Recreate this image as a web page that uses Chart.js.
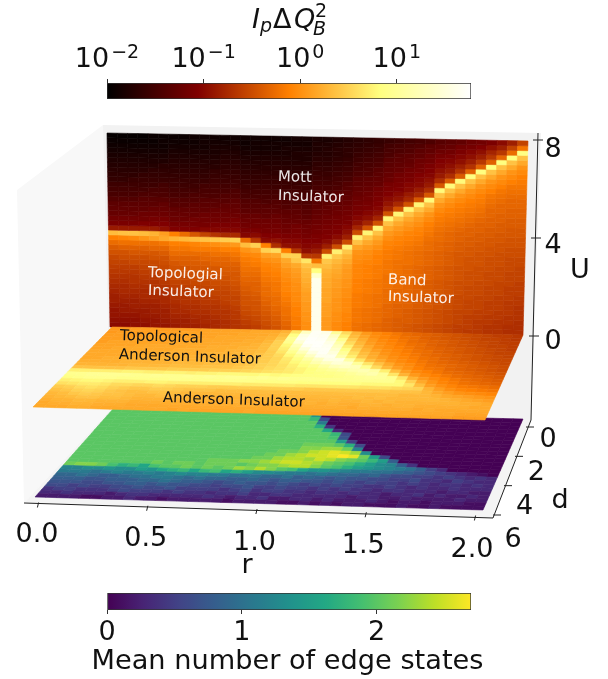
<!DOCTYPE html>
<html>
<head>
<meta charset="utf-8">
<script src="https://cdn.jsdelivr.net/npm/chart.js@4"></script>
<style>
  body { margin: 0; background: #fff; }
  canvas { position: absolute; left: 0; filter: blur(0.4px); }
  #mainChart { top: 0; }
  #hotBar { top: 0; }
  #edgeBar { top: 590px; }
</style>
</head>
<body>
<canvas id="mainChart" width="608" height="679"></canvas>
<canvas id="hotBar" width="608" height="100"></canvas>
<canvas id="edgeBar" width="608" height="89"></canvas>
<script>
// axis ticks
const rTicks = [0, 0.5, 1, 1.5, 2];
const dTicks = [0, 2, 4, 6];
const uTicks = [0, 4, 8];
const hotTicks = [0.01, 0.1, 1, 10];
const hotExponents = ["\u22122", "\u22121", "0", "1"];
const edgeTicks = [0, 1, 2];
const hotRange = [0.01, 58.7];
const edgeRange = [0, 2.7];

// back wall, I_p dQ_B^2 read as percent of the log colourbar.
// one line per r column (r = 0 .. 2), bottom (U = 0) to top (U = 8)
const wallColumns = [
  [27,28,29,29,30,31,31,32,33,34,35,36,37,38,39,41,43,46,50,62,30,24,22,20,19,18,16,14,13,12,10,9,8,7,6,5,4,3,2,1],
  [27,28,29,30,30,31,32,33,33,34,35,36,37,38,40,41,44,47,51,63,30,24,22,20,19,18,16,14,13,12,10,9,8,7,6,5,4,3,2,1],
  [28,28,29,30,31,31,32,33,34,35,35,36,37,39,40,42,44,47,52,63,30,24,22,20,19,18,16,14,13,12,11,9,8,7,6,5,4,3,2,1],
  [28,29,30,30,31,32,33,33,34,35,36,37,38,39,40,42,44,47,54,62,30,25,22,21,19,18,17,15,13,12,11,10,8,7,6,5,4,3,2,1],
  [29,29,30,31,31,32,33,34,35,35,36,37,38,39,41,42,45,47,56,60,30,25,23,21,20,18,17,15,14,12,11,10,9,7,6,5,4,3,2,2],
  [29,30,31,31,32,33,33,34,35,36,37,38,39,40,41,43,45,48,58,56,28,25,23,21,20,19,17,15,14,13,11,10,9,8,6,5,4,3,3,2],
  [30,31,32,33,33,34,35,36,37,38,39,40,41,42,44,46,48,50,60,50,25,23,21,20,19,17,16,14,13,12,11,10,9,8,7,6,5,4,3,2],
  [31,31,32,33,34,35,35,36,37,38,39,40,41,43,44,46,48,50,61,46,25,23,21,20,19,17,16,14,13,12,11,10,9,8,7,6,5,4,3,2],
  [31,32,33,34,34,35,36,37,38,39,40,40,42,43,44,46,49,51,62,42,25,23,22,20,19,18,16,15,13,12,11,10,9,8,7,6,5,4,3,3],
  [32,33,33,34,35,36,36,37,38,39,40,41,42,43,45,46,49,52,63,38,26,23,22,21,19,18,17,15,14,13,11,10,9,8,7,6,5,4,4,3],
  [33,33,34,35,35,36,37,38,39,40,40,41,42,44,45,47,49,53,64,35,26,24,22,21,20,18,17,15,14,13,12,11,10,8,7,6,5,5,4,3],
  [34,34,35,35,36,37,38,38,39,40,41,42,43,44,45,47,50,54,65,33,26,24,22,21,20,19,17,16,14,13,12,11,10,9,8,7,6,5,4,3],
  [35,35,36,36,37,38,38,39,40,41,42,42,43,44,46,48,50,55,66,33,26,24,23,21,20,19,18,16,15,13,12,11,10,9,8,7,6,5,4,3],
  [36,37,38,39,40,41,41,42,43,44,45,46,47,48,49,51,54,62,46,26,24,22,21,20,18,17,16,14,13,12,11,10,9,8,7,6,5,4,3,3],
  [37,38,39,40,41,41,42,43,44,44,45,46,47,49,50,52,56,66,36,27,24,22,21,20,18,17,16,14,13,12,11,10,9,8,7,6,5,4,4,3],
  [39,40,41,42,43,44,45,46,46,47,48,49,50,51,53,56,66,50,27,25,23,22,21,19,18,17,15,14,13,12,11,10,9,8,7,6,5,4,4,3],
  [41,42,43,44,45,46,46,47,48,48,49,50,51,52,54,57,68,34,28,25,23,22,21,20,18,17,16,14,13,12,11,10,9,8,7,6,5,4,4,3],
  [44,45,46,47,47,48,49,50,51,51,52,53,54,56,58,66,50,28,26,24,22,21,20,19,18,16,15,14,13,12,11,10,9,8,7,6,5,5,4,3],
  [48,49,49,50,50,51,52,52,53,53,54,55,56,58,64,66,35,28,26,24,23,22,20,19,18,17,15,14,13,12,11,10,9,8,7,6,6,5,4,4],
  [53,53,54,54,55,55,56,56,57,58,59,60,61,63,70,36,28,26,25,23,22,21,20,18,17,16,15,14,13,12,11,10,9,8,7,6,6,5,4,4],
  [96,96,96,96,96,96,96,96,96,96,96,90,75,62,48,36,30,27,25,24,23,22,21,20,19,18,17,16,15,14,13,12,11,10,9,8,7,6,6,5],
  [55,55,55,56,56,56,57,57,57,58,58,59,60,62,64,72,40,31,27,25,24,23,22,21,20,19,18,16,15,14,13,12,11,10,9,8,7,7,6,5],
  [52,52,53,53,54,54,54,55,55,56,56,57,58,59,61,64,72,40,31,27,25,24,23,22,21,20,19,18,17,15,14,13,12,11,10,9,8,8,7,6],
  [50,50,51,51,52,52,52,53,53,54,54,55,55,56,58,60,64,72,40,31,28,26,24,23,22,21,20,19,18,17,16,14,13,12,11,10,9,9,8,7],
  [47,47,48,48,48,49,49,49,50,50,50,51,51,51,52,53,54,57,63,72,40,32,28,26,24,23,22,21,20,19,18,17,15,14,13,12,11,10,9,8],
  [46,46,47,47,47,48,48,48,49,49,49,50,50,50,51,52,53,55,58,63,73,41,32,28,26,24,23,22,21,20,19,18,16,15,14,13,12,11,10,9],
  [45,45,46,46,46,47,47,47,48,48,48,49,49,49,50,50,51,53,55,58,63,73,41,32,28,26,25,24,23,22,20,19,18,17,15,14,13,12,11,10],
  [44,44,44,45,45,45,46,46,46,47,47,47,48,48,48,49,49,50,51,53,55,58,63,73,41,32,29,27,25,24,23,21,20,19,18,17,15,14,13,11],
  [43,43,43,44,44,44,45,45,45,46,46,46,47,47,47,48,48,49,50,51,53,55,58,63,73,41,33,29,27,25,24,23,22,20,19,18,17,15,14,12],
  [42,42,43,43,43,44,44,44,45,45,45,46,46,46,47,47,47,48,49,50,51,53,55,58,63,73,41,33,30,27,26,24,23,22,20,19,18,16,15,13],
  [41,41,42,42,42,43,43,43,44,44,44,45,45,45,46,46,46,47,48,49,50,51,53,55,58,63,73,42,33,30,27,26,25,23,22,21,19,18,16,14],
  [40,40,41,41,41,42,42,42,43,43,43,44,44,44,45,45,45,46,46,47,48,49,50,52,54,58,63,74,42,34,30,28,26,25,24,22,21,19,18,15],
  [39,39,40,40,40,41,41,41,42,42,42,43,43,43,44,44,44,45,45,46,46,47,48,49,50,52,54,58,63,74,42,34,30,28,26,25,23,21,19,17],
  [38,38,39,39,39,40,40,40,41,41,41,42,42,42,43,43,43,44,44,45,45,46,47,48,49,50,52,54,58,63,74,43,34,30,28,26,24,22,20,18],
  [37,37,38,38,38,39,39,39,40,40,40,41,41,41,42,42,42,43,43,44,44,45,46,47,48,49,50,52,54,58,63,74,43,35,31,28,26,24,22,19],
  [36,37,37,37,38,38,38,39,39,39,40,40,40,41,41,41,42,42,43,43,44,44,45,46,47,48,49,50,52,54,58,63,75,44,35,31,28,26,23,21],
  [36,36,36,37,37,38,38,38,39,39,39,40,40,40,41,41,41,42,42,43,43,44,44,45,46,47,48,49,50,52,54,58,63,75,44,36,31,28,25,22],
  [35,35,36,36,37,37,37,38,38,38,39,39,39,40,40,40,41,41,42,42,43,43,44,44,45,45,46,47,48,50,52,54,58,63,75,44,36,32,28,24],
  [35,35,35,36,36,37,37,37,38,38,38,39,39,39,40,40,40,41,41,42,42,43,43,44,44,45,45,46,47,48,50,52,54,58,63,75,45,36,31,27],
  [34,34,35,35,36,36,36,37,37,37,38,38,38,39,39,39,40,40,41,41,42,42,43,43,44,44,45,45,46,47,48,50,52,54,58,63,75,46,38,31],
  [34,34,34,35,35,35,36,36,37,37,37,38,38,38,39,39,40,40,41,41,42,42,43,43,44,44,45,45,46,47,48,49,50,52,54,58,63,76,48,38]
];

// plane at U = 0, same units. one line per d row, back (d = 0) to front (d = 6)
const planeRows = [
  [55,55,56,56,56,56,56,56,56,57,57,57,57,57,58,58,58,60,70,88,98,95,80,68,60,55,52,50,48,46,45,44,43,42,41,40,39,38,37,37,36],
  [55,56,56,56,56,56,56,57,57,57,57,57,57,58,58,58,59,62,76,94,98,97,88,72,62,57,53,51,49,47,46,44,43,42,41,40,39,38,38,37,36],
  [56,56,56,56,57,57,57,57,57,57,57,58,58,58,58,59,60,64,80,96,99,98,92,78,65,59,55,52,50,48,46,45,44,43,42,41,40,39,38,37,37],
  [56,56,56,57,57,57,57,57,57,58,58,58,58,58,59,59,61,66,78,92,99,99,95,83,68,61,56,53,51,49,47,46,44,43,42,41,40,39,38,38,37],
  [56,57,57,57,57,57,57,58,58,58,58,58,58,59,59,60,62,66,74,86,97,99,97,87,72,63,58,54,52,50,48,46,45,44,43,42,41,40,39,38,37],
  [57,57,57,57,58,58,58,58,58,58,58,59,59,59,60,60,62,66,72,82,92,98,98,90,76,66,60,56,53,51,49,47,46,44,43,42,41,40,39,38,38],
  [57,57,58,58,58,58,58,58,59,59,59,59,59,60,60,61,62,65,70,78,86,94,98,93,80,69,62,58,54,52,50,48,46,45,44,43,42,41,40,39,38],
  [58,58,58,58,58,58,59,59,59,59,59,60,60,60,61,61,63,65,68,74,80,88,96,96,84,72,64,59,56,53,51,49,47,46,44,43,42,41,40,39,39],
  [58,58,58,58,59,59,59,59,59,60,60,60,60,61,61,62,63,65,67,71,76,82,88,94,94,82,70,62,58,54,52,50,48,46,45,44,43,42,41,40,39],
  [58,58,59,59,59,59,59,60,60,60,60,61,61,61,62,62,64,65,67,70,74,78,84,88,92,90,80,70,63,58,54,52,49,47,46,45,44,43,42,41,40],
  [59,59,59,59,60,60,60,60,60,61,61,61,62,62,62,63,64,66,67,69,72,75,78,82,86,88,86,78,68,61,56,53,50,48,47,45,44,43,42,41,40],
  [60,60,60,60,60,61,61,61,61,62,62,62,63,63,63,64,65,66,68,69,71,73,75,78,80,82,84,85,82,72,62,56,52,50,48,46,45,44,43,42,41],
  [63,63,63,63,63,64,64,64,64,65,65,65,65,66,66,66,67,68,69,70,71,73,75,76,77,78,80,82,84,80,70,60,55,52,50,48,46,45,44,43,42],
  [72,72,72,72,72,73,73,72,72,73,73,72,73,73,74,74,74,74,75,74,75,76,76,76,76,77,78,79,80,80,78,70,60,55,52,50,48,46,45,44,43],
  [78,78,79,79,79,79,78,78,79,78,78,79,78,79,78,79,79,78,79,78,79,78,78,78,78,78,78,78,78,78,78,74,66,58,54,51,49,47,46,45,44],
  [76,77,78,78,78,77,77,77,77,77,78,77,77,77,77,77,77,77,76,76,76,76,75,75,75,75,75,75,74,74,74,74,70,62,56,53,51,49,48,47,46],
  [72,73,74,74,73,72,72,72,73,73,72,72,72,72,72,72,72,71,71,71,71,71,70,70,70,70,70,70,69,69,69,68,67,66,60,56,53,51,50,49,48],
  [69,70,71,71,70,68,68,67,67,68,67,66,66,66,65,65,65,65,65,65,65,65,65,64,64,64,64,64,64,64,64,63,63,63,61,58,56,54,53,52,51],
  [65,66,68,69,68,66,65,64,64,65,65,64,63,63,63,62,62,62,62,62,62,62,62,62,62,62,62,62,62,62,62,62,61,61,61,60,58,57,56,55,54],
  [63,64,66,67,66,64,63,62,62,63,63,62,61,61,61,61,61,61,61,61,61,61,61,61,61,61,61,61,62,61,62,61,61,61,61,61,60,59,58,57,56],
  [61,62,64,65,64,63,63,62,61,61,62,61,61,60,60,60,60,60,61,60,60,60,61,60,60,60,61,60,60,61,60,61,60,60,60,60,60,60,59,59,58],
  [60,61,62,63,63,62,62,61,60,60,60,60,60,60,60,59,59,60,59,59,60,59,59,59,60,59,60,59,59,60,60,59,60,60,59,59,59,59,59,58,58],
  [59,60,60,61,61,60,60,60,59,59,59,59,59,59,59,59,59,59,59,59,58,59,58,58,59,59,59,59,58,59,59,59,59,59,58,59,58,58,58,58,58],
  [58,59,59,60,60,59,59,59,58,58,58,58,58,58,58,58,58,58,58,58,58,58,58,58,58,58,58,58,58,58,58,58,58,58,58,58,58,58,57,57,57],
  [58,58,58,59,59,58,58,58,58,58,58,58,57,58,57,57,57,57,57,58,57,57,57,57,57,57,57,57,57,57,57,57,57,57,57,57,57,57,56,56,56]
];

// floor, mean number of edge states x 10, back (d = 0) to front (d = 6)
const floorRows = [
  [20,20,20,20,20,20,20,20,20,20,20,20,20,20,20,20,20,20,20,20,14,0,0,0,0,0,0,0,0,0,0,0,0,0,0,0,0,0,0,0,0],
  [20,20,20,20,20,20,20,20,20,20,20,20,20,20,20,20,20,20,20,20,18,6,0,0,0,0,0,0,0,0,0,0,0,0,0,0,0,0,0,0,0],
  [20,20,20,20,20,20,20,20,20,20,20,20,20,20,20,20,20,20,20,20,20,11,0,0,0,0,0,0,0,0,0,0,0,0,0,0,0,0,0,0,0],
  [20,20,20,20,20,20,20,20,20,20,20,20,20,20,20,20,20,20,20,20,20,17,4,0,0,0,0,0,0,0,0,0,0,0,0,0,0,0,0,0,0],
  [20,20,20,20,20,20,20,20,20,20,20,20,20,20,20,20,20,20,20,20,20,20,16,3,0,0,0,0,0,0,0,0,0,0,0,0,0,0,0,0,0],
  [20,20,20,20,20,20,20,20,20,20,20,20,20,20,20,20,20,20,20,20,20,20,20,18,6,0,0,0,0,0,0,0,0,0,0,0,0,0,0,0,0],
  [20,20,20,20,20,20,20,20,20,20,20,20,20,20,20,20,20,20,20,20,20,20,20,19,7,0,0,0,0,0,0,0,0,0,0,0,0,0,0,0,0],
  [20,20,20,20,20,20,20,20,20,20,20,20,20,20,20,20,20,20,20,20,20,20,20,20,15,5,0,0,0,0,0,0,0,0,0,0,0,0,0,0,0],
  [20,20,20,20,20,20,20,20,20,20,20,20,20,20,20,20,20,20,20,20,20,21,21,21,20,17,6,0,0,0,0,0,0,0,0,0,0,0,0,0,0],
  [20,20,20,20,20,20,20,20,20,20,20,20,20,20,20,20,20,20,20,20,20,22,22,23,23,21,12,0,0,0,0,0,0,0,0,0,0,0,0,0,0],
  [20,20,20,20,20,20,20,20,20,20,20,20,20,20,20,20,20,20,20,21,21,22,24,25,26,25,23,13,0,0,0,0,0,0,0,0,0,0,0,0,0],
  [20,20,20,20,20,20,20,20,20,20,20,20,20,20,20,20,20,20,21,21,23,24,25,25,26,27,26,21,15,6,0,0,0,0,0,0,0,0,0,0,0],
  [20,20,20,20,20,20,20,20,20,20,20,20,20,20,20,20,20,21,21,23,24,24,23,25,24,22,21,20,18,15,8,0,0,0,0,0,0,0,0,0,0],
  [20,20,20,20,20,20,20,20,20,20,20,20,20,21,21,21,22,22,23,24,25,25,24,23,21,20,19,17,15,13,12,8,4,0,0,0,0,0,0,0,0],
  [20,20,20,20,20,20,20,20,21,20,21,21,20,21,21,21,20,21,22,22,23,24,24,22,20,19,17,15,14,13,12,11,10,8,5,3,0,0,0,0,0],
  [21,22,22,21,19,17,18,16,19,20,20,21,20,21,20,21,23,22,24,22,20,19,16,14,14,13,12,11,11,10,10,9,8,7,6,5,4,3,2,1,0],
  [12,12,13,13,14,13,13,15,14,16,17,18,16,18,19,16,17,15,13,13,12,11,11,10,11,10,9,9,8,9,7,6,6,5,5,4,5,4,3,4,3],
  [11,11,11,10,11,12,11,11,12,11,12,13,12,12,11,11,10,10,10,9,9,10,8,9,8,7,8,7,7,6,6,5,5,6,4,4,3,5,4,3,3],
  [9,9,10,9,8,8,9,10,10,11,11,10,9,10,9,9,8,8,9,8,7,8,8,7,7,6,7,6,5,6,5,5,4,5,4,3,4,4,3,4,3],
  [8,8,8,7,7,8,8,8,9,9,10,9,8,8,7,6,7,8,7,7,6,7,6,5,6,5,6,5,5,4,4,5,4,3,4,3,3,4,3,3,3],
  [7,7,7,6,6,7,7,8,8,7,8,7,7,6,6,5,6,6,7,5,5,6,5,5,4,5,4,5,4,4,3,4,4,3,3,3,2,3,3,2,2],
  [6,6,5,6,5,5,6,6,7,6,6,7,5,5,5,5,4,5,6,4,5,5,4,4,3,4,4,3,4,3,3,2,3,3,4,2,3,2,2,3,2],
  [4,5,5,4,4,4,5,6,5,5,5,4,5,4,4,3,4,4,5,3,3,4,4,3,3,3,3,3,2,3,3,2,2,3,2,2,2,2,3,2,2],
  [3,3,4,3,3,3,2,3,4,4,3,3,3,3,3,4,3,2,3,3,4,2,2,3,3,2,3,2,2,2,3,2,1,2,2,1,2,2,2,1,1],
  [2,2,2,2,1,1,2,2,3,2,2,1,2,2,2,2,2,1,2,2,2,2,1,1,2,1,2,1,2,2,1,1,1,2,1,1,2,1,1,1,1]
];

const hotStops = [[0, 0, 0, 0], [0.25, 128, 0, 0], [0.5, 255, 128, 0], [0.75, 255, 255, 128], [1, 255, 255, 255]];
const viridisStops = [[0, 68, 1, 84], [0.1, 72, 36, 117], [0.2, 65, 68, 135], [0.3, 53, 95, 141], [0.4, 42, 120, 142],
  [0.5, 33, 145, 140], [0.6, 34, 168, 132], [0.7, 68, 191, 112], [0.8, 122, 209, 81], [0.9, 189, 223, 38], [1, 253, 231, 37]];

function colorAt(stops, t) {
  t = Math.max(0, Math.min(1, t));
  for (let i = 1; i < stops.length; i++) {
    if (t <= stops[i][0]) {
      let a = stops[i - 1], b = stops[i];
      let f = (t - a[0]) / (b[0] - a[0]);
      return "rgb(" + [1, 2, 3].map(k => Math.round(a[k] + (b[k] - a[k]) * f)).join(",") + ")";
    }
  }
  return "rgb(255,255,255)";
}

// where each surface sits in the picture: [i0 j0], [i1 j0], [i1 j1], [i0 j1]
const wallQuad = [[110, 327], [523, 335], [528, 141], [107, 133]];
const planeQuad = [[112, 327], [523, 335], [485, 420], [33, 407]];
const floorQuad = [[113, 409], [523, 419], [483, 510], [35, 497]];

function lattice(quad, cols, rows) {
  let pts = [];
  for (let j = 0; j <= rows; j++) {
    for (let i = 0; i <= cols; i++) {
      let u = i / cols, v = j / rows;
      let x = (1 - v) * ((1 - u) * quad[0][0] + u * quad[1][0]) + v * ((1 - u) * quad[3][0] + u * quad[2][0]);
      let y = (1 - v) * ((1 - u) * quad[0][1] + u * quad[1][1]) + v * ((1 - u) * quad[3][1] + u * quad[2][1]);
      pts.push({ x: x, y: y });
    }
  }
  return pts;
}

function surface(label, quad, cols, rows, color) {
  return { label: label, data: lattice(quad, cols, rows), cols: cols, rows: rows, cellColor: color, pointRadius: 0, showLine: false };
}

const floorSet = surface("Mean number of edge states", floorQuad, 41, floorRows.length,
  (i, j) => colorAt(viridisStops, floorRows[j][i] / 27));
const wallSet = surface("IpdQ2 wall", wallQuad, 41, 40, (i, j) => colorAt(hotStops, wallColumns[i][j] / 100));
const planeSet = surface("IpdQ2 plane", planeQuad, 41, planeRows.length, (i, j) => colorAt(hotStops, planeRows[j][i] / 100));

function polygon(ctx, pts, color) {
  ctx.fillStyle = color;
  ctx.beginPath();
  pts.forEach((p, k) => k ? ctx.lineTo(p[0], p[1]) : ctx.moveTo(p[0], p[1]));
  ctx.closePath();
  ctx.fill();
}

function label(ctx, text, x, y, font, color, angle, align) {
  ctx.save();
  ctx.translate(x, y);
  ctx.rotate((angle || 0) * Math.PI / 180);
  ctx.font = font;
  ctx.fillStyle = color;
  ctx.textAlign = align || "center";
  ctx.textBaseline = "middle";
  ctx.fillText(text, 0, 0);
  ctx.restore();
}

function segment(ctx, a, b, width) {
  ctx.strokeStyle = "#222";
  ctx.lineWidth = width;
  ctx.beginPath();
  ctx.moveTo(a[0], a[1]);
  ctx.lineTo(b[0], b[1]);
  ctx.stroke();
}

const cellPlugin = {
  id: "cells",
  beforeDatasetsDraw(chart) {
    let ctx = chart.ctx;
    polygon(ctx, [[17, 190], [103, 125], [110, 410], [24, 503]], "#f8f8f8");
    polygon(ctx, [[103, 125], [541, 133], [531, 420], [110, 410]], "#f2f2f2");
    polygon(ctx, [[24, 503], [110, 410], [531, 420], [493, 518]], "#f4f4f4");
    chart.data.datasets.forEach((set, n) => {
      let pts = chart.getDatasetMeta(n).data;
      let w = set.cols + 1;
      for (let j = 0; j < set.rows; j++) {
        for (let i = 0; i < set.cols; i++) {
          let c = set.cellColor(i, j);
          let k = j * w + i;
          ctx.fillStyle = c;
          ctx.strokeStyle = c;
          ctx.lineWidth = 0.6;
          ctx.beginPath();
          ctx.moveTo(pts[k].x, pts[k].y);
          ctx.lineTo(pts[k + 1].x, pts[k + 1].y);
          ctx.lineTo(pts[k + w + 1].x, pts[k + w + 1].y);
          ctx.lineTo(pts[k + w].x, pts[k + w].y);
          ctx.closePath();
          ctx.fill();
          ctx.stroke();
        }
      }
    });
  },
  afterDatasetsDraw(chart) {
    let ctx = chart.ctx;
    let big = "27px 'DejaVu Sans'";
    let small = "15px 'DejaVu Sans'";

    // r axis
    segment(ctx, [24, 503], [493, 518], 1);
    rTicks.forEach(r => {
      let x = 38 + r / 2 * 437, y = 505 + r / 2 * 13;
      segment(ctx, [x - 0.6, y + 2.5], [x + 0.6, y - 2.5], 1);
      label(ctx, r.toFixed(1), 37 + r / 2 * 435, 535 + r / 2 * 15, big, "#111");
    });
    label(ctx, "r", 247, 566, big, "#111");

    // d axis
    segment(ctx, [531, 420], [493, 518], 1);
    dTicks.forEach(d => {
      let x = 530 - d / 6 * 33, y = 427 + d / 6 * 88;
      segment(ctx, [x - 4, y], [x + 4, y], 1);
      label(ctx, String(d), 548 - d / 6 * 35, 440 + d / 6 * 100, big, "#111");
    });
    label(ctx, "d", 560, 501, big, "#111");

    // U axis
    segment(ctx, [538, 133], [531, 420], 1);
    uTicks.forEach(u => {
      let x = 534 + u / 8 * 4, y = 336 - u / 8 * 196;
      segment(ctx, [x - 5, y], [x + 5, y], 1);
      label(ctx, String(u), 553, 342 - u / 8 * 192, big, "#111");
    });
    label(ctx, "U", 580, 271, big, "#111");

    // region names
    let soft = "rgba(255,255,255,0.9)";
    label(ctx, "Mott", 278, 177, small, soft, 2, "left");
    label(ctx, "Insulator", 278, 196, small, soft, 2, "left");
    label(ctx, "Topologial", 148, 273, small, soft, 2, "left");
    label(ctx, "Insulator", 148, 291, small, soft, 2, "left");
    label(ctx, "Band", 388, 280, small, soft, 2, "left");
    label(ctx, "Insulator", 388, 297, small, soft, 2, "left");
    label(ctx, "Topological", 120, 336, small, "#111", 2, "left");
    label(ctx, "Anderson Insulator", 119, 355, small, "#111", 2, "left");
    label(ctx, "Anderson Insulator", 163, 398, small, "#111", 2, "left");
  }
};

new Chart(document.getElementById("mainChart").getContext("2d"), {
  type: "scatter",
  data: { datasets: [floorSet, wallSet, planeSet] },
  plugins: [cellPlugin],
  options: {
    responsive: false,
    animation: false,
    devicePixelRatio: 1,
    parsing: false,
    normalized: true,
    events: [],
    layout: { padding: 0 },
    plugins: { legend: { display: false }, tooltip: { enabled: false } },
    scales: {
      x: { type: "linear", min: 0, max: 608, display: false },
      y: { type: "linear", min: 0, max: 679, reverse: true, display: false }
    }
  }
});

function barGradient(ctx, stops) {
  let area = ctx.chart.chartArea;
  if (!area) return "#888";
  let g = ctx.chart.ctx.createLinearGradient(area.left, 0, area.right, 0);
  for (let i = 0; i <= 64; i++) g.addColorStop(i / 64, colorAt(stops, i / 64));
  return g;
}

function barOptions(scaleType, range, ticks, position, axisHeight, formatter, tickPadding) {
  return {
    responsive: false,
    animation: false,
    devicePixelRatio: 1,
    indexAxis: "y",
    events: [],
    plugins: { legend: { display: false }, tooltip: { enabled: false } },
    scales: {
      y: { display: false },
      x: {
        type: scaleType,
        position: position,
        min: range[0],
        max: range[1],
        afterBuildTicks: s => { s.ticks = ticks.map(v => ({ value: v })); },
        afterFit: s => { s.height = axisHeight; },
        border: { display: false },
        grid: { drawOnChartArea: false, drawTicks: true, tickLength: 4, color: "#333" },
        ticks: { color: "#111", font: { family: "DejaVu Sans", size: 27 }, padding: tickPadding, maxRotation: 0, autoSkip: false, callback: formatter }
      }
    }
  };
}

// label and tick labels of the top colourbar have sub and superscripts
const hotTitle = {
  id: "hotTitle",
  afterDraw(chart) {
    let ctx = chart.ctx;
    let xScale = chart.scales.x;
    ctx.save();
    ctx.fillStyle = "#111";
    ctx.textAlign = "left";
    ctx.textBaseline = "alphabetic";
    ctx.font = "italic 27px 'DejaVu Sans'";
    ctx.fillText("I", 252, 28);
    ctx.fillText("Q", 294, 28);
    ctx.font = "27px 'DejaVu Sans'";
    ctx.fillText("\u0394", 273, 28);
    ctx.font = "italic 19px 'DejaVu Sans'";
    ctx.fillText("p", 260, 32);
    ctx.fillText("B", 313, 35);
    ctx.font = "19px 'DejaVu Sans'";
    ctx.fillText("2", 315, 17);

    hotTicks.forEach((v, n) => {
      ctx.font = "27px 'DejaVu Sans'";
      let base = ctx.measureText("10").width;
      ctx.font = "19px 'DejaVu Sans'";
      let sup = ctx.measureText(hotExponents[n]).width;
      let left = xScale.getPixelForValue(v) - (base + sup + 2) / 2;
      ctx.font = "27px 'DejaVu Sans'";
      ctx.fillText("10", left, 67);
      ctx.font = "19px 'DejaVu Sans'";
      ctx.fillText(hotExponents[n], left + base + 2, 58);
    });
    ctx.restore();
  }
};

// axis titles get squeezed to the axis width, this one is wider than the bar
const edgeTitle = {
  id: "edgeTitle",
  afterDraw(chart) {
    label(chart.ctx, "Mean number of edge states", 287.5, 72, "27.2px 'DejaVu Sans'", "#111");
  }
};

const hotConfig = {
  type: "bar",
  data: {
    labels: [""],
    datasets: [{ data: [hotRange], barPercentage: 1, categoryPercentage: 1, borderColor: "#333", borderWidth: 1, borderSkipped: false,
      backgroundColor: ctx => barGradient(ctx, hotStops) }]
  },
  plugins: [hotTitle],
  options: barOptions("logarithmic", hotRange, hotTicks, "top", 83, () => "", 6)
};
hotConfig.options.layout = { padding: { left: 107, right: 137, top: 0, bottom: 1 } };
new Chart(document.getElementById("hotBar").getContext("2d"), hotConfig);

const edgeConfig = {
  type: "bar",
  data: {
    labels: [""],
    datasets: [{ data: [edgeRange], barPercentage: 1, categoryPercentage: 1, borderColor: "#333", borderWidth: 1, borderSkipped: false,
      backgroundColor: ctx => barGradient(ctx, viridisStops) }]
  },
  plugins: [edgeTitle],
  options: barOptions("linear", edgeRange, edgeTicks, "bottom", 69, v => String(v), 3)
};
edgeConfig.options.layout = { padding: { left: 107, right: 137, top: 3, bottom: 0 } };
new Chart(document.getElementById("edgeBar").getContext("2d"), edgeConfig);
</script>
</body>
</html>
